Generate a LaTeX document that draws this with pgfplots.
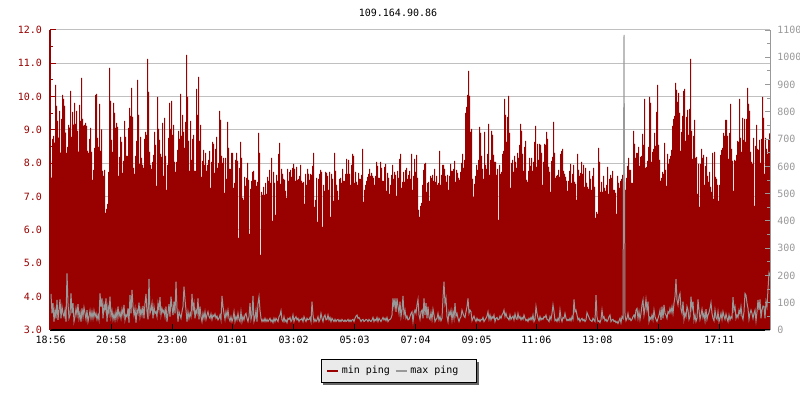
\documentclass[border=0pt]{standalone}
\usepackage{fontspec}
\setmainfont{DejaVu Sans Mono}
\usepackage{pgfplots}
\usepackage{pgfplotstable}
\pgfplotsset{compat=1.18}

\definecolor{minred}{HTML}{990000}
\definecolor{maxgray}{HTML}{999999}
\definecolor{gridgray}{HTML}{C0C0C0}
\definecolor{legfill}{HTML}{EAEAEA}
\definecolor{shadowgray}{HTML}{666666}

% min ping (ms), one sample per pixel column
\pgfplotstableread[row sep=\\]{
v\\
8.07\\ 7.57\\ 8.73\\ 8.82\\ 8.62\\ 10.35\\ 9.72\\ 9.27\\ 8.77\\ 9.57\\
8.32\\ 9.33\\ 10.05\\ 9.93\\ 9.72\\ 8.92\\ 8.31\\ 8.49\\ 9.15\\ 9.07\\
10.17\\ 8.79\\ 9.54\\ 9.16\\ 9.81\\ 9.18\\ 9.57\\ 8.97\\ 8.35\\ 9.75\\
9.27\\ 10.56\\ 9.33\\ 9.13\\ 9.15\\ 9.21\\ 9.12\\ 8.37\\ 8.31\\ 8.73\\
9.06\\ 8.34\\ 7.50\\ 7.80\\ 8.46\\ 10.05\\ 10.08\\ 8.76\\ 8.49\\ 9.78\\
8.37\\ 9.02\\ 7.77\\ 7.62\\ 7.80\\ 6.51\\ 6.63\\ 6.78\\ 7.74\\ 10.86\\
9.87\\ 8.70\\ 8.34\\ 9.81\\ 9.51\\ 9.06\\ 9.21\\ 9.09\\ 7.62\\ 8.19\\
8.79\\ 8.64\\ 7.71\\ 8.07\\ 9.27\\ 8.79\\ 8.22\\ 8.22\\ 9.06\\ 9.66\\
9.42\\ 10.26\\ 9.39\\ 7.86\\ 7.68\\ 8.22\\ 8.67\\ 10.50\\ 9.45\\ 7.98\\
8.79\\ 8.16\\ 7.95\\ 7.86\\ 8.73\\ 8.94\\ 8.85\\ 11.13\\ 10.14\\ 8.34\\
7.95\\ 7.83\\ 8.04\\ 8.25\\ 8.94\\ 8.55\\ 7.32\\ 9.99\\ 9.03\\ 8.70\\
8.28\\ 8.19\\ 9.21\\ 7.62\\ 9.36\\ 8.22\\ 7.20\\ 7.95\\ 8.76\\ 9.81\\
9.03\\ 9.87\\ 8.85\\ 9.15\\ 8.04\\ 7.74\\ 8.04\\ 8.40\\ 8.97\\ 8.73\\
10.08\\ 8.82\\ 9.45\\ 8.94\\ 8.46\\ 9.24\\ 11.25\\ 9.99\\ 8.67\\ 7.77\\
9.27\\ 8.10\\ 8.73\\ 8.85\\ 7.77\\ 7.77\\ 10.23\\ 9.45\\ 10.59\\ 8.67\\
9.15\\ 7.59\\ 8.07\\ 8.40\\ 7.95\\ 8.31\\ 7.77\\ 7.95\\ 8.10\\ 8.37\\
7.26\\ 8.04\\ 8.64\\ 8.58\\ 7.71\\ 8.43\\ 8.79\\ 7.86\\ 8.01\\ 9.57\\
9.30\\ 8.22\\ 8.01\\ 8.16\\ 7.11\\ 8.16\\ 7.53\\ 9.24\\ 8.46\\ 7.83\\
7.83\\ 8.31\\ 8.31\\ 7.26\\ 7.41\\ 8.10\\ 8.31\\ 8.07\\ 5.76\\ 7.86\\
8.64\\ 8.16\\ 6.96\\ 6.90\\ 7.59\\ 7.32\\ 7.56\\ 8.01\\ 7.50\\ 5.88\\
7.23\\ 7.47\\ 7.74\\ 7.77\\ 7.50\\ 7.50\\ 7.32\\ 7.44\\ 8.91\\ 8.31\\
5.25\\ 7.14\\ 7.05\\ 7.29\\ 7.05\\ 7.41\\ 7.08\\ 7.59\\ 7.47\\ 7.80\\
7.41\\ 8.16\\ 6.27\\ 7.74\\ 7.41\\ 6.45\\ 7.65\\ 7.47\\ 8.28\\ 8.61\\
7.38\\ 7.83\\ 7.68\\ 7.53\\ 7.50\\ 7.17\\ 6.96\\ 7.83\\ 7.47\\ 7.74\\
7.80\\ 7.59\\ 7.86\\ 7.98\\ 7.83\\ 7.47\\ 7.89\\ 7.50\\ 7.53\\ 7.62\\
7.95\\ 7.47\\ 7.41\\ 7.44\\ 6.78\\ 7.68\\ 7.35\\ 7.83\\ 7.68\\ 7.50\\
7.68\\ 7.65\\ 7.92\\ 8.31\\ 6.69\\ 6.90\\ 7.56\\ 6.24\\ 7.53\\ 7.68\\
7.80\\ 7.74\\ 6.09\\ 7.35\\ 7.17\\ 7.74\\ 7.71\\ 7.62\\ 7.20\\ 7.74\\
6.39\\ 7.68\\ 7.53\\ 6.87\\ 8.31\\ 7.77\\ 7.35\\ 7.17\\ 6.90\\ 7.53\\
7.56\\ 7.41\\ 7.83\\ 7.47\\ 7.47\\ 7.68\\ 8.13\\ 7.68\\ 8.10\\ 7.68\\
7.35\\ 7.95\\ 8.28\\ 8.22\\ 7.41\\ 7.74\\ 7.44\\ 7.35\\ 7.71\\ 7.53\\
7.53\\ 7.65\\ 8.43\\ 6.84\\ 7.20\\ 7.35\\ 7.47\\ 7.59\\ 7.68\\ 7.83\\
7.62\\ 7.71\\ 7.62\\ 7.56\\ 7.35\\ 7.62\\ 8.04\\ 7.92\\ 7.56\\ 7.56\\
8.04\\ 7.86\\ 7.47\\ 7.47\\ 7.89\\ 7.98\\ 7.17\\ 7.71\\ 7.56\\ 7.08\\
7.35\\ 7.65\\ 7.95\\ 7.53\\ 7.74\\ 7.65\\ 7.02\\ 7.77\\ 7.56\\ 8.13\\
8.28\\ 7.26\\ 7.44\\ 7.74\\ 7.44\\ 7.80\\ 7.86\\ 7.53\\ 7.65\\ 7.77\\
7.53\\ 8.28\\ 7.20\\
7.62\\ 8.13\\ 7.74\\ 8.25\\ 7.56\\ 6.60\\ 6.39\\ 6.72\\ 6.81\\ 7.35\\
7.80\\ 7.98\\ 8.01\\ 7.14\\ 7.41\\ 7.44\\ 6.87\\ 7.62\\ 7.56\\ 7.65\\
7.47\\ 7.83\\ 7.44\\ 7.62\\ 7.35\\ 7.41\\ 8.37\\ 7.35\\ 7.65\\ 7.95\\
7.95\\ 7.83\\ 7.62\\ 7.44\\ 7.65\\ 7.20\\ 7.62\\ 7.98\\ 7.77\\ 7.77\\
7.83\\ 8.07\\ 7.44\\ 7.80\\ 7.71\\ 7.56\\ 7.50\\ 7.74\\ 8.01\\ 8.28\\
7.86\\ 8.10\\ 9.51\\ 9.69\\ 10.05\\ 10.77\\ 10.02\\ 8.94\\ 9.03\\ 7.53\\
6.99\\ 7.38\\ 7.62\\ 7.95\\ 7.80\\ 8.10\\ 9.09\\ 8.91\\ 8.22\\ 7.83\\
7.53\\ 8.94\\ 7.95\\ 7.83\\ 8.28\\ 9.18\\ 7.65\\ 8.10\\ 8.97\\ 8.85\\
8.25\\ 8.04\\ 8.04\\ 7.65\\ 7.83\\ 6.30\\ 7.95\\ 7.68\\ 7.74\\ 8.28\\
8.37\\ 9.93\\ 9.45\\ 8.64\\ 9.39\\ 10.02\\ 8.91\\ 7.26\\ 8.01\\ 8.10\\
7.74\\ 8.22\\ 8.04\\ 7.86\\ 8.31\\ 8.16\\ 8.55\\ 9.18\\ 8.97\\ 8.28\\
7.77\\ 8.49\\ 8.67\\ 7.50\\ 7.44\\ 7.77\\ 8.16\\ 7.92\\ 8.16\\ 7.77\\
8.04\\ 8.64\\ 9.12\\ 7.89\\ 8.58\\ 8.10\\ 8.58\\ 8.55\\ 8.31\\ 7.35\\
8.04\\ 8.58\\ 8.55\\ 8.94\\ 8.73\\ 7.89\\ 7.74\\ 7.14\\ 8.07\\ 8.19\\
9.24\\ 8.31\\ 7.56\\ 7.62\\ 7.65\\ 7.80\\ 7.59\\ 8.28\\ 8.37\\ 8.43\\
7.77\\ 7.68\\ 7.59\\ 7.47\\ 7.17\\ 7.47\\ 7.77\\ 7.98\\ 7.41\\ 7.68\\
7.95\\ 7.44\\ 7.38\\ 6.90\\ 8.28\\ 7.80\\ 7.62\\ 7.71\\ 8.04\\ 7.68\\
7.95\\ 7.29\\ 7.86\\ 7.41\\ 7.29\\ 7.23\\ 7.77\\ 7.53\\ 7.20\\
7.62\\ 7.86\\ 7.29\\ 6.36\\ 6.54\\ 6.48\\ 8.46\\ 8.04\\ 7.14\\ 7.44\\
7.14\\ 7.62\\ 7.26\\ 7.17\\ 7.35\\ 7.89\\ 7.08\\ 7.53\\ 7.65\\ 7.56\\
7.77\\ 7.20\\ 7.20\\ 7.11\\ 6.48\\ 7.62\\ 7.41\\ 7.26\\ 7.47\\ 7.53\\
7.65\\ 7.86\\ 7.44\\ 7.20\\ 7.56\\ 7.92\\ 8.16\\ 7.80\\ 7.80\\ 7.41\\
7.41\\ 8.97\\ 8.58\\ 8.16\\ 8.31\\ 8.31\\ 8.49\\ 7.92\\ 8.19\\ 8.22\\
8.88\\ 8.55\\ 9.93\\ 7.86\\ 7.89\\ 8.07\\ 8.49\\ 9.99\\ 9.81\\ 8.04\\
8.34\\ 8.43\\ 8.91\\ 8.52\\ 9.54\\ 10.35\\ 8.55\\ 8.10\\ 7.47\\ 7.56\\
7.74\\ 7.68\\ 8.61\\ 7.80\\ 7.32\\ 8.28\\ 7.98\\ 8.13\\ 8.22\\ 8.40\\
9.12\\ 9.33\\ 9.42\\ 10.41\\ 10.20\\ 9.84\\ 10.11\\ 9.51\\ 8.37\\ 8.94\\
9.42\\ 10.17\\ 10.23\\ 8.67\\ 9.39\\ 9.60\\ 8.85\\ 9.63\\ 11.13\\ 8.97\\
8.13\\ 8.82\\ 9.30\\ 8.16\\ 8.19\\ 7.08\\ 7.98\\ 6.69\\ 7.98\\ 8.43\\
8.16\\ 8.25\\ 7.35\\ 7.92\\ 8.19\\ 7.62\\ 7.44\\ 7.74\\ 7.29\\ 7.14\\
8.31\\ 6.93\\ 8.34\\ 7.59\\ 7.53\\ 7.35\\ 6.87\\ 7.35\\ 8.25\\ 8.40\\
8.46\\ 8.91\\ 8.82\\ 9.30\\ 9.30\\ 8.82\\ 8.13\\ 8.91\\ 9.78\\ 8.43\\
8.07\\ 7.17\\ 8.10\\ 8.07\\ 8.25\\ 8.67\\ 8.64\\ 9.93\\ 8.76\\ 8.34\\
9.36\\ 8.70\\ 9.33\\ 8.64\\ 9.33\\ 10.26\\ 9.78\\ 9.57\\ 8.34\\ 8.04\\
7.98\\ 8.76\\ 6.72\\ 8.52\\ 9.15\\ 8.43\\ 8.40\\ 8.70\\ 8.01\\ 8.73\\
9.99\\ 9.36\\ 7.68\\ 8.76\\ 8.43\\ 8.28\\ 8.70\\ 8.90\\ 8.90\\
}\minping

% max ping (ms), one sample per pixel column
\pgfplotstableread[row sep=\\]{
v\\
132\\ 61\\ 98\\ 31\\ 73\\ 43\\ 110\\ 37\\ 73\\ 112\\
43\\ 86\\ 61\\ 49\\ 73\\ 31\\ 208\\ 98\\ 43\\ 55\\
134\\ 61\\ 98\\ 31\\ 49\\ 79\\ 55\\ 95\\ 43\\ 64\\
31\\ 79\\ 49\\ 83\\ 61\\ 39\\ 73\\ 31\\ 49\\ 71\\
43\\ 67\\ 43\\ 71\\ 49\\ 61\\ 39\\ 55\\ 37\\ 134\\
86\\ 116\\ 43\\ 92\\ 73\\ 116\\ 31\\ 86\\ 61\\ 122\\
49\\ 71\\ 39\\ 59\\ 37\\ 67\\ 43\\ 86\\ 49\\ 64\\
43\\ 76\\ 55\\ 92\\ 37\\ 55\\ 49\\ 79\\ 27\\ 128\\
61\\ 147\\ 86\\ 55\\ 79\\ 27\\ 73\\ 61\\ 100\\ 49\\
76\\ 55\\ 88\\ 43\\ 98\\ 132\\ 67\\ 39\\ 187\\ 61\\
73\\ 98\\ 43\\ 86\\ 61\\ 67\\ 49\\ 98\\ 73\\ 120\\
55\\ 79\\ 64\\ 73\\ 49\\ 86\\ 31\\ 61\\ 95\\ 49\\
122\\ 86\\ 55\\ 104\\ 61\\ 177\\ 79\\ 31\\ 67\\ 55\\
43\\ 67\\ 86\\ 159\\ 112\\ 73\\ 31\\ 67\\ 43\\ 61\\
49\\ 132\\ 73\\ 98\\ 43\\ 73\\ 61\\ 116\\ 39\\ 86\\
49\\ 31\\ 61\\ 43\\ 67\\ 39\\ 55\\ 67\\ 49\\ 43\\
59\\ 39\\ 55\\ 49\\ 59\\ 43\\ 51\\ 37\\ 43\\ 55\\
37\\ 125\\ 86\\ 61\\ 39\\ 67\\ 49\\ 73\\ 43\\ 33\\
49\\ 31\\ 43\\ 67\\ 31\\ 49\\ 37\\ 61\\ 39\\ 31\\
67\\ 31\\ 49\\ 37\\ 55\\ 61\\ 43\\ 31\\ 49\\ 98\\
39\\ 55\\ 125\\ 31\\ 43\\ 73\\ 31\\ 98\\ 122\\ 73\\
43\\ 31\\ 39\\ 31\\ 43\\ 31\\ 39\\ 31\\ 37\\ 43\\
31\\ 37\\ 27\\ 43\\ 31\\ 43\\ 37\\ 31\\ 49\\ 55\\
71\\ 37\\ 31\\ 49\\ 31\\ 37\\ 27\\ 43\\ 39\\ 46\\
31\\
37\\ 55\\ 31\\ 43\\ 49\\ 37\\ 43\\ 31\\ 39\\ 37\\
43\\ 31\\ 49\\ 39\\ 31\\ 43\\ 37\\ 39\\ 46\\ 31\\
104\\ 55\\ 31\\ 39\\ 31\\ 37\\ 49\\ 31\\ 39\\ 61\\
43\\ 31\\ 49\\ 55\\ 37\\ 39\\ 55\\ 37\\ 46\\ 31\\
43\\ 37\\ 31\\ 39\\ 31\\ 37\\ 39\\ 31\\ 37\\ 31\\
39\\ 34\\ 31\\ 37\\ 31\\ 34\\ 39\\ 31\\ 37\\ 31\\
37\\ 39\\ 31\\ 43\\ 51\\ 55\\ 43\\ 46\\ 39\\ 31\\
37\\ 39\\ 31\\ 34\\ 39\\ 37\\ 31\\ 39\\ 34\\ 31\\
37\\ 46\\ 31\\ 39\\ 34\\ 46\\ 31\\ 43\\ 37\\ 31\\
39\\ 46\\ 37\\ 43\\ 34\\ 46\\ 31\\ 37\\ 39\\ 43\\
55\\ 116\\ 86\\ 116\\ 67\\ 116\\ 86\\ 61\\ 104\\ 49\\
73\\ 125\\ 55\\ 73\\ 43\\ 51\\ 37\\ 39\\ 49\\ 61\\
67\\ 31\\ 61\\ 73\\ 61\\ 92\\ 112\\ 55\\ 39\\ 67\\
73\\ 43\\ 116\\ 55\\ 98\\ 43\\ 86\\ 46\\ 39\\ 64\\
39\\ 76\\ 55\\ 31\\ 39\\ 43\\ 61\\ 37\\ 49\\ 34\\
43\\ 116\\ 177\\ 98\\ 116\\ 49\\ 31\\ 67\\ 55\\ 73\\
37\\ 67\\ 43\\ 98\\ 51\\ 61\\ 43\\ 31\\ 43\\ 49\\
73\\ 61\\ 51\\ 46\\ 67\\ 86\\ 116\\ 61\\ 73\\ 67\\
34\\ 43\\ 51\\ 39\\ 31\\ 43\\ 34\\ 39\\ 31\\ 39\\
37\\ 46\\ 31\\ 37\\ 43\\ 51\\ 67\\ 39\\ 55\\ 37\\
49\\ 43\\ 55\\ 31\\ 43\\ 46\\ 37\\ 39\\ 51\\ 43\\
55\\ 61\\ 73\\ 49\\ 61\\ 46\\ 43\\ 37\\ 55\\ 39\\
46\\ 51\\ 37\\ 59\\ 43\\ 39\\ 61\\ 43\\ 49\\ 37\\
46\\ 39\\ 55\\ 43\\ 34\\ 39\\ 31\\ 43\\ 37\\ 46\\
37\\ 55\\ 31\\ 39\\ 86\\ 61\\ 43\\ 34\\ 49\\ 37\\
43\\ 39\\ 49\\ 46\\ 55\\ 39\\ 37\\ 31\\ 49\\ 39\\
61\\ 92\\ 67\\ 34\\ 39\\ 31\\ 43\\ 34\\ 73\\ 43\\
31\\ 46\\ 43\\ 61\\ 43\\ 34\\ 39\\ 34\\ 43\\ 34\\
49\\ 39\\ 112\\ 67\\ 73\\ 55\\ 37\\ 43\\ 31\\ 39\\
43\\ 34\\ 39\\ 31\\ 37\\ 64\\ 55\\ 46\\ 37\\ 34\\
31\\ 43\\ 37\\ 31\\ 128\\ 49\\ 31\\ 34\\ 27\\ 39\\
73\\ 43\\ 49\\ 34\\ 39\\ 31\\ 37\\ 49\\ 55\\ 31\\
37\\ 39\\ 31\\ 34\\ 27\\ 31\\ 24\\ 33\\ 43\\ 27\\
49\\ 43\\ 1082\\ 55\\ 34\\ 43\\ 61\\ 39\\ 43\\ 34\\
39\\ 49\\ 55\\ 43\\ 73\\ 79\\ 43\\ 67\\ 39\\ 61\\
92\\ 110\\ 55\\ 79\\ 112\\ 73\\ 104\\ 31\\ 46\\ 39\\
55\\ 37\\ 73\\ 49\\ 39\\ 31\\ 43\\ 55\\ 73\\ 37\\
86\\ 43\\ 92\\ 61\\ 55\\ 43\\ 67\\ 61\\ 79\\ 64\\
86\\ 61\\ 98\\ 122\\ 186\\ 110\\ 92\\ 122\\ 134\\ 76\\
61\\ 104\\ 39\\ 61\\ 49\\ 86\\ 73\\ 39\\ 49\\ 122\\
79\\ 104\\ 37\\ 55\\ 31\\ 43\\ 112\\ 73\\ 39\\ 55\\
76\\ 46\\ 61\\ 34\\ 76\\ 39\\ 55\\ 64\\ 79\\ 100\\
61\\ 43\\ 34\\ 73\\ 46\\ 39\\ 67\\ 31\\ 43\\ 61\\
39\\ 67\\ 51\\ 39\\ 59\\ 43\\ 31\\ 55\\ 37\\ 49\\
43\\ 120\\ 73\\ 86\\ 43\\ 55\\ 46\\ 73\\ 59\\ 86\\
51\\ 39\\ 67\\ 134\\ 128\\ 98\\ 79\\ 39\\ 61\\ 73\\
61\\ 43\\ 61\\ 73\\ 34\\ 67\\ 110\\ 73\\ 112\\ 43\\
73\\ 88\\ 86\\ 43\\ 104\\ 86\\ 149\\ 210\\ 200\\
}\maxping

\pgfplotsset{
    pingaxis/.style={
        scale only axis,
        width=540pt,
        height=225pt,
        xmin=0, xmax=720,
        tick label style={font=\fontsize{7.5}{9}\selectfont},
        /pgf/number format/assume math mode=true,
    },
}

\begin{document}
\begin{tikzpicture}
    \path[use as bounding box] (-37.5pt,-52.5pt) rectangle (562.5pt,247.5pt);

    % grid only, kept below the filled area
    \begin{axis}[
            pingaxis,
            ymin=3, ymax=12,
            axis line style={draw=none},
            tick style={draw=none},
            xtick=\empty,
            ytick={4,...,12},
            yticklabels={},
            ymajorgrids,
            major grid style={gridgray, line width=0.75pt},
        ]
    \end{axis}

    % min ping, left axis
    \begin{axis}[
            pingaxis,
            ymin=3, ymax=12,
            axis on top,
            axis x line*=bottom,
            axis y line*=left,
            x axis line style={black, line width=1.1pt},
            y axis line style={minred, line width=0.75pt},
            xtick={0.7,61.3,122.3,182.3,243.7,304.7,365.7,426.7,486.3,547.3,608.3,669.3},
            xticklabels={18:56,20:58,23:00,01:01,03:02,05:03,07:04,09:05,11:06,13:08,15:09,17:11},
            ytick={3,...,12},
            minor y tick num=1,
            tick align=inside,
            major tick length=4.5pt,
            minor tick length=2.25pt,
            x tick style={black, line width=0.75pt},
            y tick style={minred, line width=0.75pt},
            xticklabel style={black, yshift=-1pt},
            yticklabel style={minred, xshift=-2.5pt},
            y tick label style={/pgf/number format/fixed, /pgf/number format/fixed zerofill, /pgf/number format/precision=1},
        ]
        \addplot[const plot, fill=minred, draw=none] table[x expr=\coordindex, y=v] {\minping} \closedcycle;
    \end{axis}

    % shadow behind the legend box
    \fill[shadowgray] (204.75pt,-41.25pt) rectangle (321.75pt,-24pt);

    % max ping, right axis
    \begin{axis}[
            pingaxis,
            ymin=0, ymax=1100,
            axis x line=none,
            axis y line*=right,
            y axis line style={maxgray, line width=0.75pt},
            ytick={0,100,...,1100},
            minor y tick num=1,
            tick align=inside,
            major tick length=3.75pt,
            minor tick length=2.25pt,
            y tick style={maxgray, line width=0.75pt},
            yticklabel style={maxgray, xshift=2pt},
            /pgf/number format/1000 sep={},
            legend columns=2,
            legend image code/.code={\draw[#1] (0pt,0pt) -- (8.25pt,0pt);},
            legend style={
                at={(axis description cs:0.4847,-0.137)}, anchor=center,
                draw=black, line width=0.75pt, fill=legfill,
                font=\fontsize{7.5}{9}\selectfont,
                inner xsep=3.75pt, inner ysep=3pt,
                /tikz/every even column/.append style={column sep=1.5pt},
            },
        ]
        \addlegendimage{minred, line width=1.5pt}
        \addlegendentry{min ping}
        \addlegendimage{maxgray, line width=1.5pt}
        \addlegendentry{max ping\hspace*{8pt}}
        \addplot[maxgray, line width=0.75pt, forget plot] table[x expr=\coordindex+1, y=v] {\maxping};
    \end{axis}

    \node[font=\fontsize{7.5}{9}\selectfont] at (261pt,237.75pt) {109.164.90.86};
\end{tikzpicture}
\end{document}
